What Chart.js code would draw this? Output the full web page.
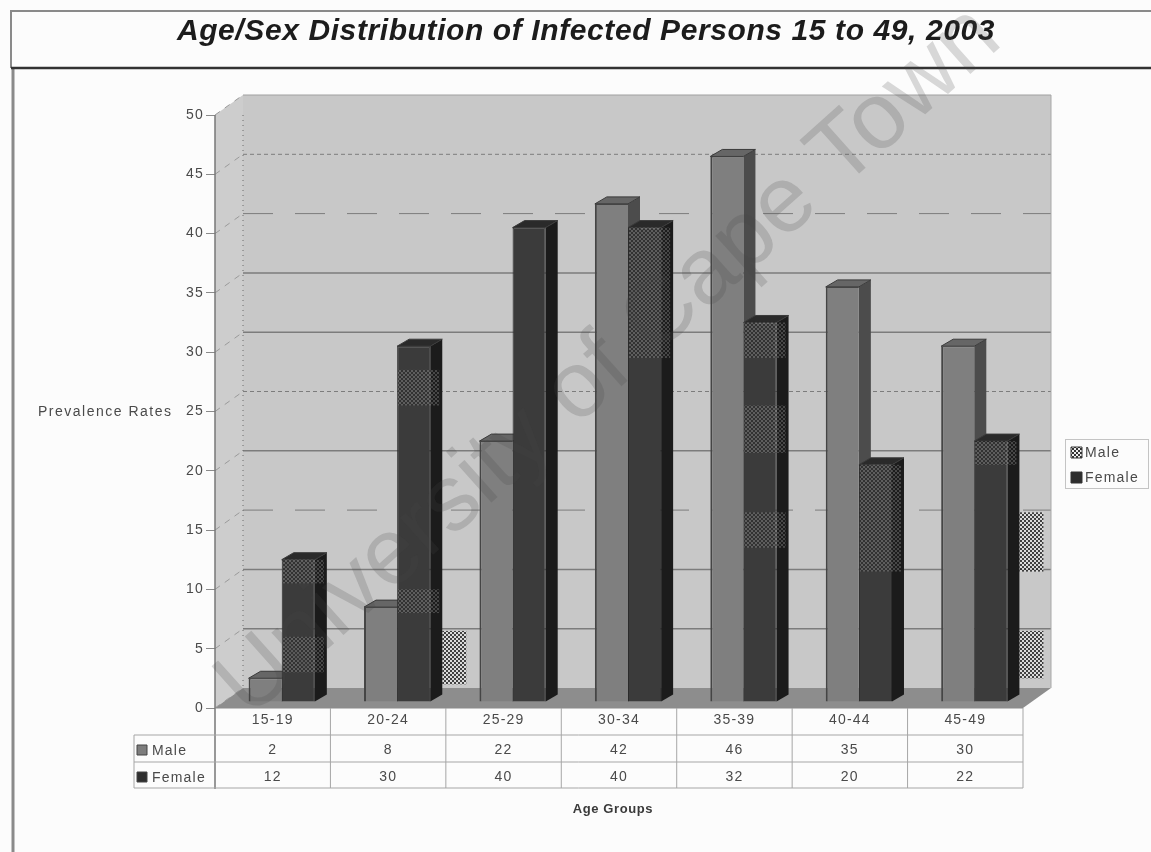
<!DOCTYPE html>
<html>
<head>
<meta charset="utf-8">
<title>Age/Sex Distribution</title>
<script src="https://cdn.jsdelivr.net/npm/chart.js@4"></script>
<style>
  html, body { margin: 0; padding: 0; background: #ffffff; }
  canvas { display: block; }
</style>
</head>
<body>
<canvas id="myChart" width="1151" height="852"></canvas>
<script>
const ageGroups = ["15-19", "20-24", "25-29", "30-34", "35-39", "40-44", "45-49"];
const maleValues = [2, 8, 22, 42, 46, 35, 30];
const femaleValues = [12, 30, 40, 40, 32, 20, 22];
const yTicks = [0, 5, 10, 15, 20, 25, 30, 35, 40, 45, 50];
const chartTitle = "Age/Sex Distribution of Infected Persons 15 to 49, 2003";
const yTitle = "Prevalence Rates";
const xTitle = "Age Groups";
const watermark = "University of Cape Town";
// scan speckle on the female bars: [group, from value, to value]
const barSpeckle = [[0, 12, 10], [0, 5.5, 2.5], [1, 28, 25], [1, 9.5, 7.5], [3, 40, 29], [4, 32, 29], [4, 25, 21], [4, 16, 13], [5, 20, 11], [6, 22, 20]];
// and on the wall just right of a group
const wallSpeckle = [[1, 6.5, 2], [6, 16.5, 11.5], [6, 6.5, 2.5]];

const font = '"Liberation Sans", Arial, sans-serif';
const textColor = "#4a4a4a";
const labelSpacing = "1.2px";
// how far the bars and the walls sit behind the front plane
const barShift = { x: 9, y: -6 };
const barDepth = { x: 12, y: -7 };
const wallDepth = { x: 28, y: -20 };

function poly(ctx, pts, fill, stroke) {
  ctx.beginPath();
  pts.forEach((p, i) => (i ? ctx.lineTo(p[0], p[1]) : ctx.moveTo(p[0], p[1])));
  ctx.closePath();
  ctx.fillStyle = fill;
  ctx.fill();
  if (stroke) {
    ctx.strokeStyle = stroke;
    ctx.lineWidth = 1;
    ctx.stroke();
  }
}

function line(ctx, x1, y1, x2, y2, color, width, dash) {
  ctx.save();
  ctx.beginPath();
  ctx.moveTo(x1, y1);
  ctx.lineTo(x2, y2);
  ctx.strokeStyle = color;
  ctx.lineWidth = width || 1;
  ctx.setLineDash(dash || []);
  ctx.stroke();
  ctx.restore();
}

function text(ctx, str, x, y, fnt, color, align) {
  ctx.font = fnt;
  ctx.fillStyle = color || textColor;
  ctx.textAlign = align || "center";
  ctx.textBaseline = "middle";
  ctx.fillText(str, x, y);
}

function checker(ctx, dark, light) {
  const c = document.createElement("canvas");
  c.width = 4;
  c.height = 4;
  const p = c.getContext("2d");
  p.fillStyle = light;
  p.fillRect(0, 0, 4, 4);
  p.fillStyle = dark;
  p.fillRect(0, 0, 2, 2);
  p.fillRect(2, 2, 2, 2);
  return ctx.createPattern(c, "repeat");
}

function drawBarSides(chart, index) {
  const ctx = chart.ctx;
  const isMale = index === 0;
  const dx = barDepth.x;
  const dy = barDepth.y;
  ctx.save();
  ctx.translate(barShift.x, barShift.y);
  chart.getDatasetMeta(index).data.forEach((bar) => {
    const l = bar.x - bar.width / 2;
    const r = bar.x + bar.width / 2;
    poly(ctx, [[r, bar.y], [r + dx, bar.y + dy], [r + dx, bar.base + dy], [r, bar.base]], isMale ? "#4c4c4c" : "#1b1b1b");
    poly(ctx, [[l, bar.y], [l + dx, bar.y + dy], [r + dx, bar.y + dy], [r, bar.y]], isMale ? "#666666" : "#2a2a2a", "#3a3a3a");
  });
  ctx.restore();
}

const frame = {
  id: "frame",
  beforeDraw(chart) {
    const ctx = chart.ctx;
    ctx.save();
    ctx.fillStyle = "#fcfcfc";
    ctx.fillRect(0, 0, 1151, 852);
    line(ctx, 10, 11, 1151, 11, "#8a8a8a", 2);
    line(ctx, 11, 11, 11, 68, "#8a8a8a", 2);
    line(ctx, 13, 68, 13, 852, "#8a8a8a", 3);
    line(ctx, 11, 68, 1151, 68, "#333333", 2.5);
    ctx.letterSpacing = "0.6px";
    text(ctx, chartTitle, 586, 32, "italic bold 30px " + font, "#1c1c1c");
    ctx.restore();
    // picked up by the axis labels too
    ctx.letterSpacing = labelSpacing;
  },
};

const walls = {
  id: "walls",
  beforeDatasetsDraw(chart) {
    const ctx = chart.ctx;
    const a = chart.chartArea;
    const y = chart.scales.y;
    const dx = wallDepth.x;
    const dy = wallDepth.y;
    ctx.save();
    // side wall and back wall
    poly(ctx, [[a.left, a.bottom], [a.left, a.top], [a.left + dx, a.top + dy], [a.left + dx, a.bottom + dy]], "#cdcdcd");
    poly(ctx, [[a.left + dx, a.top + dy], [a.right + dx, a.top + dy], [a.right + dx, a.bottom + dy], [a.left + dx, a.bottom + dy]], "#c8c8c8");
    // floor
    poly(ctx, [[a.left, a.bottom], [a.right, a.bottom], [a.right + dx, a.bottom + dy], [a.left + dx, a.bottom + dy]], "#8d8d8d");
    yTicks.forEach((t) => {
      const py = y.getPixelForValue(t);
      if (t > 0 && t < 50) {
        const dotted = t === 45 || t === 40 || t === 25 || t === 15;
        line(ctx, a.left + dx, py + dy, a.right + dx, py + dy, "#7c7c7c", dotted ? 1 : 1.5, t === 40 || t === 15 ? [30, 22] : dotted ? [4, 3] : []);
      }
      line(ctx, a.left, py, a.left + dx, py + dy, "#9a9a9a", 1, [6, 6]);
    });
    line(ctx, a.left + dx, a.top + dy, a.right + dx, a.top + dy, "#a0a0a0", 1);
    line(ctx, a.left + dx, a.top + dy + 20, a.left + dx, a.bottom + dy, "#6a6a6a", 1, [1, 4]);
    line(ctx, a.right + dx, a.top + dy, a.right + dx, a.bottom + dy, "#a8a8a8", 1);
    line(ctx, a.left, a.top, a.left, a.bottom + 81, "#777777", 1.5);
    line(ctx, a.left, a.bottom, a.right, a.bottom, "#8a8a8a", 1);
    // wall speckle
    const female = chart.getDatasetMeta(1).data;
    ctx.globalAlpha = 0.75;
    ctx.fillStyle = checker(ctx, "#151515", "#e2e2e2");
    wallSpeckle.forEach(([g, from, to]) => {
      const bar = female[g];
      const x0 = bar.x + bar.width / 2 + barShift.x + barDepth.x;
      ctx.fillRect(x0, y.getPixelForValue(from), 24, y.getPixelForValue(to) - y.getPixelForValue(from));
    });
    ctx.restore();
    // male sides sit behind the female fronts, so they go first
    drawBarSides(chart, 0);
  },
  beforeDatasetDraw(chart, args) {
    const ctx = chart.ctx;
    if (args.index === 1) drawBarSides(chart, 1);
    ctx.save();
    ctx.translate(barShift.x, barShift.y);
  },
  afterDatasetDraw(chart, args) {
    const ctx = chart.ctx;
    if (args.index === 1) {
      const y = chart.scales.y;
      ctx.save();
      ctx.globalAlpha = 0.32;
      ctx.fillStyle = checker(ctx, "#202020", "#a8a8a8");
      barSpeckle.forEach(([g, from, to]) => {
        const bar = args.meta.data[g];
        ctx.fillRect(bar.x - bar.width / 2 + 1, y.getPixelForValue(from), bar.width + barDepth.x - 4, y.getPixelForValue(to) - y.getPixelForValue(from));
      });
      ctx.restore();
    }
    ctx.restore();
  },
  afterDraw(chart) {
    const ctx = chart.ctx;
    const a = chart.chartArea;
    const x = chart.scales.x;
    const rowLines = [a.bottom + 27, a.bottom + 54, a.bottom + 80];
    ctx.save();
    // data table under the plot
    const leftEdge = 134;
    rowLines.forEach((ry) => line(ctx, leftEdge, ry, a.right, ry, "#a6a6a6", 1));
    line(ctx, leftEdge, rowLines[0], leftEdge, rowLines[2], "#a6a6a6", 1);
    ageGroups.forEach((g, i) => {
      const cx = x.getPixelForTick(i);
      const edge = cx + (x.getPixelForTick(1) - x.getPixelForTick(0)) / 2;
      line(ctx, edge, a.bottom, edge, rowLines[2], "#a6a6a6", 1);
      text(ctx, String(maleValues[i]), cx, a.bottom + 42, "14px " + font);
      text(ctx, String(femaleValues[i]), cx, a.bottom + 69, "14px " + font);
    });
    poly(ctx, [[137, a.bottom + 37], [147, a.bottom + 37], [147, a.bottom + 47], [137, a.bottom + 47]], "#7d7d7d", "#444444");
    poly(ctx, [[137, a.bottom + 64], [147, a.bottom + 64], [147, a.bottom + 74], [137, a.bottom + 74]], "#2e2e2e", "#444444");
    text(ctx, "Male", 152, a.bottom + 43, "14px " + font, textColor, "left");
    text(ctx, "Female", 152, a.bottom + 70, "14px " + font, textColor, "left");
    // axis titles
    ctx.letterSpacing = "1.5px";
    text(ctx, yTitle, 38, 412, "14px " + font, textColor, "left");
    ctx.letterSpacing = "0.6px";
    text(ctx, xTitle, 613, 809, "bold 13px " + font, "#3a3a3a");
    ctx.letterSpacing = labelSpacing;
    // legend
    ctx.strokeStyle = "#c4c4c4";
    ctx.lineWidth = 1;
    ctx.strokeRect(1065.5, 439.5, 83, 49);
    poly(ctx, [[1071, 447], [1082, 447], [1082, 458], [1071, 458]], checker(ctx, "#333333", "#eeeeee"), "#3a3a3a");
    poly(ctx, [[1071, 472], [1082, 472], [1082, 483], [1071, 483]], "#2e2e2e", "#333333");
    text(ctx, "Male", 1085, 453, "14px " + font, textColor, "left");
    text(ctx, "Female", 1085, 478, "14px " + font, textColor, "left");
    // faint stamp across the whole picture
    ctx.letterSpacing = "0px";
    ctx.translate(232, 700);
    ctx.rotate(-0.73);
    text(ctx, watermark, 0, 0, "94px " + font, "rgba(70,70,70,0.2)", "left");
    ctx.restore();
  },
};

new Chart(document.getElementById("myChart"), {
  type: "bar",
  data: {
    labels: ageGroups,
    datasets: [
      { label: "Male", data: maleValues, backgroundColor: "#7f7f7f", borderColor: "#454545", borderWidth: { left: 2, right: 0, top: 1, bottom: 1 }, clip: false },
      { label: "Female", data: femaleValues, backgroundColor: "#3b3b3b", borderColor: "#2a2a2a", borderWidth: 1, clip: false },
    ],
  },
  options: {
    responsive: false,
    animation: false,
    categoryPercentage: 0.574,
    barPercentage: 1,
    layout: { padding: { top: 115, right: 128, left: 0, bottom: 0 } },
    plugins: { legend: { display: false }, tooltip: { enabled: false } },
    scales: {
      x: {
        afterFit: (s) => { s.height = 144; },
        grid: { display: false, drawTicks: false },
        border: { display: false },
        ticks: { color: textColor, font: { family: font, size: 14 }, padding: 4, maxRotation: 0 },
      },
      y: {
        min: 0,
        max: 50,
        afterFit: (s) => { s.width = 215; },
        afterBuildTicks: (s) => { s.ticks = yTicks.map((v) => ({ value: v })); },
        grid: { drawOnChartArea: false, color: "#8a8a8a", tickLength: 9 },
        border: { display: false },
        ticks: { color: textColor, font: { family: font, size: 14 }, padding: 2 },
      },
    },
  },
  plugins: [frame, walls],
});
</script>
</body>
</html>
